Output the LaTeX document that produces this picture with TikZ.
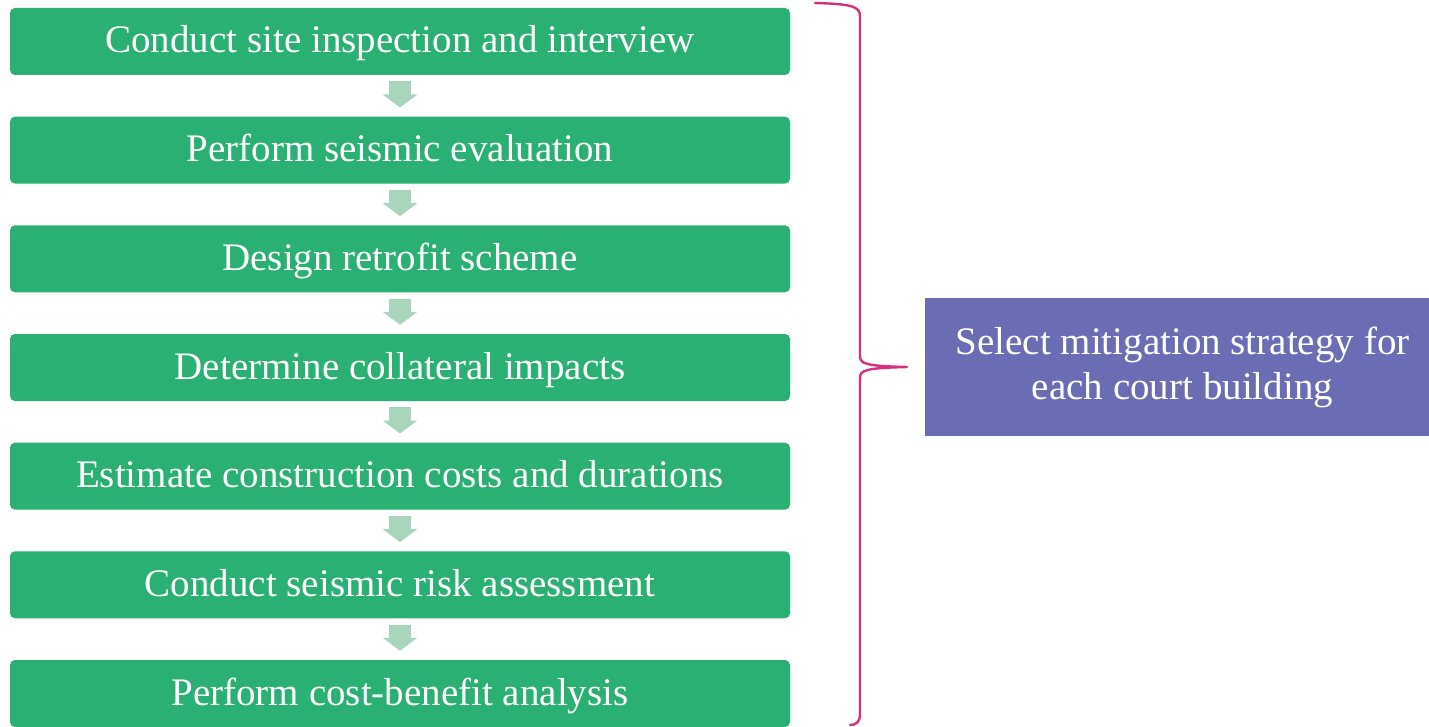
\documentclass[tikz,border=0pt]{standalone}
\usepackage{fontspec}
\setmainfont{Liberation Serif}
\usetikzlibrary{arrows.meta}
\definecolor{stepgreen}{HTML}{2AB072}
\definecolor{arrowgreen}{HTML}{A9D5BD}
\definecolor{bracepink}{HTML}{D6307F}
\definecolor{goalpurple}{HTML}{6A6DB3}
\begin{document}
\begin{tikzpicture}[x=1pt,y=-1pt,
  stepbox/.style={fill=stepgreen, rounded corners=5pt, minimum width=780pt,
    minimum height=67pt, inner sep=0pt, text=white,
    text height=27pt, text depth=4pt,
    font=\fontsize{39}{45}\selectfont},
  goalbox/.style={fill=goalpurple, minimum width=515pt, minimum height=138pt,
    inner sep=0pt, text=white, align=center,
    font=\fontsize{39}{45}\selectfont},
  flowarrow/.style={draw=arrowgreen, line width=22pt, line cap=butt,
    -{Triangle[width=34pt,length=13pt]}, shorten <=6pt, shorten >=9pt},
  bracestyle/.style={draw=bracepink, line width=2.4pt, line cap=round, line join=round}]
\useasboundingbox (0,0) rectangle (1429,727);

\node[stepbox] (s1) at (400,41.5) {Conduct site inspection and interview};
\node[stepbox] (s2) at (400,150.2) {Perform seismic evaluation};
\node[stepbox] (s3) at (400,258.8) {Design retrofit scheme};
\node[stepbox] (s4) at (400,367.5) {Determine collateral impacts};
\node[stepbox] (s5) at (400,476.2) {Estimate construction costs and durations};
\node[stepbox] (s6) at (400,584.8) {Conduct seismic risk assessment};
\node[stepbox] (s7) at (400,693.5) {Perform cost-benefit analysis};

\foreach \a/\b in {s1/s2,s2/s3,s3/s4,s4/s5,s5/s6,s6/s7}
  \draw[flowarrow] (\a) -- (\b);

\node[goalbox] (goal) at (1182.5,367) {Select mitigation strategy for\\each court building};

% curly brace gathering all steps
\coordinate (btop) at (815,3);
\coordinate (btip) at (907,367);
\coordinate (bbot) at (850,725);
\draw[bracestyle] (btop) .. controls (850,4) and (860,6) .. (860,16)
  -- (860,356) .. controls (860,364) and (866,366) .. (btip)
  .. controls (866,368) and (860,370) .. (860,378)
  -- (860,714) .. controls (860,722) and (856,725) .. (bbot);
\end{tikzpicture}
\end{document}
